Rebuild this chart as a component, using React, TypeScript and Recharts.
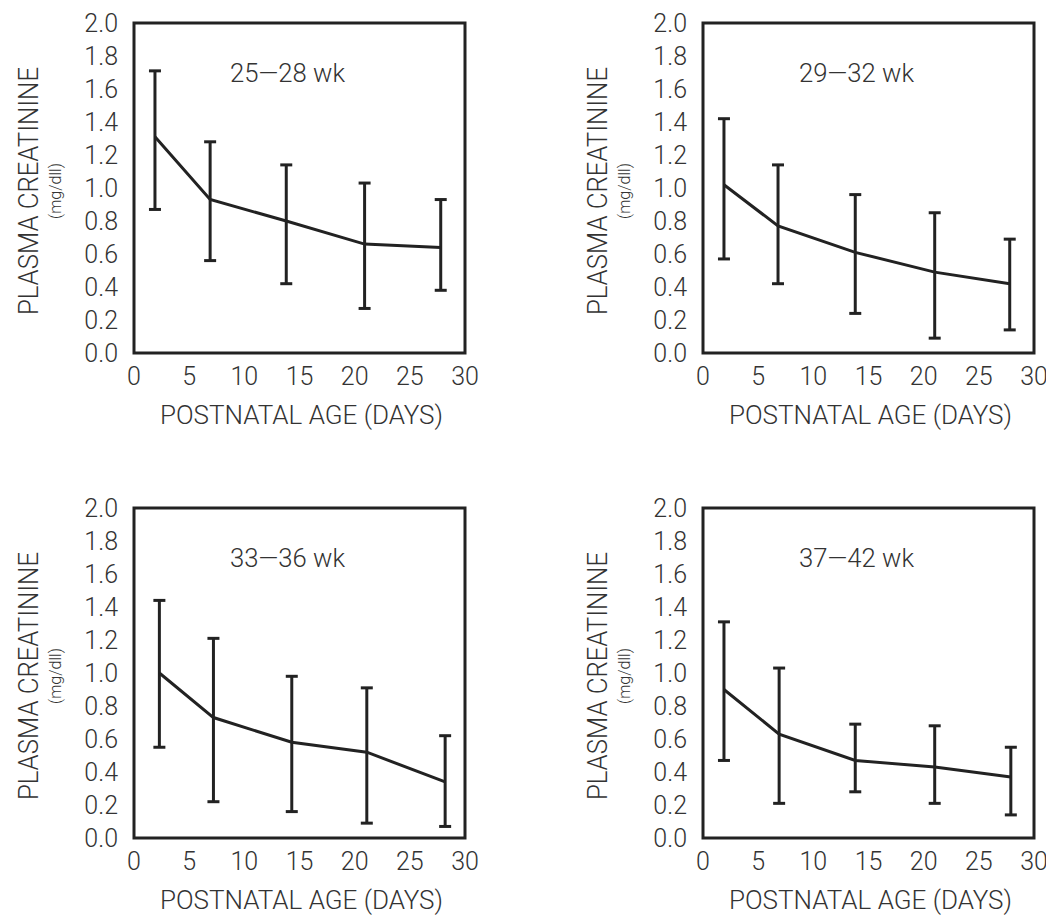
import React from 'react';
import { LineChart, Line, XAxis, YAxis, ErrorBar, ReferenceArea } from 'recharts';

// four gestational-age groups
const groupTitles = ['25—28 wk', '29—32 wk', '33—36 wk', '37—42 wk'];

const ageDays = [
  [1.9, 6.9, 13.8, 20.9, 27.8],
  [1.9, 6.8, 13.8, 21.0, 27.8],
  [2.3, 7.2, 14.3, 21.1, 28.2],
  [1.9, 6.9, 13.8, 21.0, 27.9],
];

const meanCreat = [
  [1.31, 0.93, 0.8, 0.66, 0.64],
  [1.02, 0.77, 0.61, 0.49, 0.42],
  [1.0, 0.73, 0.58, 0.52, 0.34],
  [0.9, 0.63, 0.47, 0.43, 0.37],
];

const upperCreat = [
  [1.71, 1.28, 1.14, 1.03, 0.93],
  [1.42, 1.14, 0.96, 0.85, 0.69],
  [1.44, 1.21, 0.98, 0.91, 0.62],
  [1.31, 1.03, 0.69, 0.68, 0.55],
];

const lowerCreat = [
  [0.87, 0.56, 0.42, 0.27, 0.38],
  [0.57, 0.42, 0.24, 0.09, 0.14],
  [0.55, 0.22, 0.16, 0.09, 0.07],
  [0.47, 0.21, 0.28, 0.21, 0.14],
];

const xTicks = [0, 5, 10, 15, 20, 25, 30];
const yTicks = [0, 0.2, 0.4, 0.6, 0.8, 1.0, 1.2, 1.4, 1.6, 1.8, 2.0];

const FONT = 'Roboto, "Noto Sans", sans-serif';
const TEXT = '#333';
const INK = '#222';

const panelPos = [
  { left: 0, top: 0 },
  { left: 569, top: 0 },
  { left: 0, top: 485 },
  { left: 569, top: 485 },
];

const TitleLabel = ({ viewBox, value }: any) => {
  if (!viewBox) return null;
  return (
    <text
      x={viewBox.x + viewBox.width / 2 - 12}
      y={viewBox.y + 59}
      textAnchor="middle"
      fontFamily={FONT}
      fontWeight={300}
      fontSize={26}
      fill={TEXT}
      textLength={115}
      lengthAdjust="spacingAndGlyphs"
    >
      {value}
    </text>
  );
};

const XTitle = ({ viewBox }: any) => {
  if (!viewBox) return null;
  const cx = viewBox.x + viewBox.width / 2 + 2;
  return (
    <text
      x={cx}
      y={viewBox.y + 71}
      textAnchor="middle"
      fontFamily={FONT}
      fontWeight={300}
      fontSize={26}
      fill={TEXT}
      textLength={283}
      lengthAdjust="spacingAndGlyphs"
    >
      POSTNATAL AGE (DAYS)
    </text>
  );
};

const YTitle = ({ viewBox }: any) => {
  if (!viewBox) return null;
  const cy = viewBox.y + viewBox.height / 2 + 3;
  const x1 = viewBox.x - 26;
  const x2 = viewBox.x - 3;
  return (
    <g>
      <text
        x={x1}
        y={cy}
        transform={`rotate(-90 ${x1} ${cy})`}
        textAnchor="middle"
        fontFamily={FONT}
        fontWeight={300}
        fontSize={28}
        fill={TEXT}
        textLength={248}
        lengthAdjust="spacingAndGlyphs"
      >
        PLASMA CREATININE
      </text>
      <text
        x={x2}
        y={cy}
        transform={`rotate(-90 ${x2} ${cy})`}
        textAnchor="middle"
        fontFamily={FONT}
        fontWeight={300}
        fontSize={16}
        fill={TEXT}
      >
        (mg/dll)
      </text>
    </g>
  );
};

function Panel({ idx }: { idx: number }) {
  const data = ageDays[idx].map((d, i) => ({
    day: d,
    mean: meanCreat[idx][i],
    err: [meanCreat[idx][i] - lowerCreat[idx][i], upperCreat[idx][i] - meanCreat[idx][i]],
  }));
  const tick = { fontFamily: FONT, fontWeight: 300, fontSize: 25, fill: TEXT };
  return (
    <div style={{ position: 'absolute', ...panelPos[idx] }}>
      <LineChart
        width={520}
        height={458}
        data={data}
        margin={{ top: 23, right: 55, left: 64, bottom: 65 }}
      >
        <XAxis
          type="number"
          dataKey="day"
          domain={[0, 30]}
          ticks={xTicks}
          interval={0}
          axisLine={false}
          tickLine={false}
          tickSize={0}
          tickMargin={14}
          tick={tick}
          height={40}
          label={{ content: <XTitle /> }}
        />
        <YAxis
          type="number"
          domain={[0, 2]}
          ticks={yTicks}
          interval={0}
          axisLine={false}
          tickLine={false}
          tickSize={0}
          tickMargin={16}
          tick={tick}
          width={70}
          tickFormatter={(v: number) => v.toFixed(1)}
          label={{ content: <YTitle /> }}
        />
        <ReferenceArea
          x1={0}
          x2={30}
          y1={0}
          y2={2}
          fill="none"
          stroke={INK}
          strokeWidth={3}
          label={{ content: <TitleLabel value={groupTitles[idx]} /> }}
        />
        <Line
          type="linear"
          dataKey="mean"
          stroke={INK}
          strokeWidth={3}
          dot={false}
          isAnimationActive={false}
        >
          <ErrorBar
            dataKey="err"
            direction="y"
            width={6}
            strokeWidth={3}
            stroke={INK}
            isAnimationActive={false}
          />
        </Line>
      </LineChart>
    </div>
  );
}

export default function App() {
  return (
    <div style={{ position: 'absolute', left: 0, top: 0, width: 1046, height: 916, background: '#fff' }}>
      {[0, 1, 2, 3].map((i) => (
        <Panel key={i} idx={i} />
      ))}
    </div>
  );
}
